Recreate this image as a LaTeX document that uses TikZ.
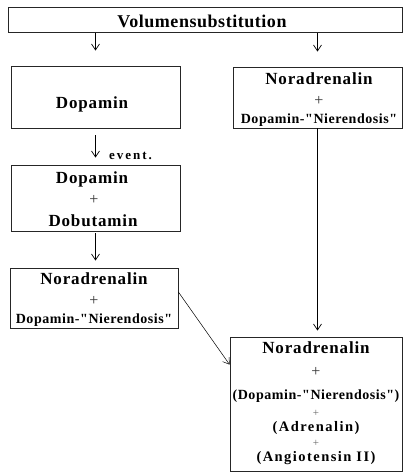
\documentclass[tikz,border=0pt]{standalone}
\usepackage{fontspec}
\setmainfont{Liberation Serif}
\newfontfamily\tpf[LetterSpace=3]{Liberation Serif}
\newfontfamily\hdf[LetterSpace=5]{Liberation Serif}
\newfontfamily\sbf[LetterSpace=4]{Liberation Serif}
\newfontfamily\wsf[LetterSpace=10]{Liberation Serif}
\newfontfamily\evf[LetterSpace=15]{Liberation Serif}
\usetikzlibrary{arrows.meta,calc}
\begin{document}
\begin{tikzpicture}[x=1pt,y=-1pt,
  box/.style={draw=black!85,line width=0.8pt,inner sep=0pt},
  tp/.style={anchor=base,inner sep=0pt,font=\tpf\bfseries\fontsize{18}{20}\selectfont},
  hd/.style={anchor=base,inner sep=0pt,font=\hdf\bfseries\fontsize{17}{20}\selectfont},
  sb/.style={anchor=base,inner sep=0pt,font=\sbf\bfseries\fontsize{14}{16}\selectfont},
  ws/.style={anchor=base,inner sep=0pt,font=\wsf\bfseries\fontsize{14.5}{17}\selectfont},
  ev/.style={anchor=base west,inner sep=0pt,font=\evf\bfseries\fontsize{13}{15}\selectfont},
  pl/.style={inner sep=0pt,text=black!80,font=\fontsize{16}{17}\selectfont},
  ps/.style={inner sep=0pt,text=black!60,font=\fontsize{11}{12}\selectfont},
  arr/.style={-{Straight Barb[length=6pt,width=8pt]},line width=0.7pt}]
\useasboundingbox (0,0) rectangle (404,472);
% boxes
\node[box,minimum width=394pt,minimum height=25pt] (top) at (205,19.5) {};
\node[box,minimum width=169pt,minimum height=62pt] (dop) at (95.5,97) {};
\node[box,minimum width=169pt,minimum height=66pt] (dd) at (95.5,198) {};
\node[box,minimum width=168pt,minimum height=60pt] (nl) at (94,298) {};
\node[box,minimum width=169pt,minimum height=61pt] (nr) at (317.5,97.5) {};
\node[box,minimum width=172pt,minimum height=134pt] (fin) at (316,404) {};
% texts
\node[tp] (t0) at (202,27) {Volumensubstitution};
\node[hd] (t1) at (92,108) {Dopamin};
\node[hd] (t2) at (92,183) {Dopamin};
\node[pl] (t3) at (94,200) {+};
\node[hd] (t4) at (93,226) {Dobutamin};
\node[hd] (t5) at (94,284) {Noradrenalin};
\node[pl] (t6) at (94,300.5) {+};
\node[sb] (t7) at (94,323) {Dopamin-"Nierendosis"};
\node[hd] (t8) at (319,84) {Noradrenalin};
\node[pl] (t9) at (319,100.5) {+};
\node[sb] (t10) at (319,123) {Dopamin-"Nierendosis"};
\node[hd] (t11) at (316,353) {Noradrenalin};
\node[pl] (t12) at (316,372) {+};
\node[sb] (t13) at (316,399) {(Dopamin-"Nierendosis")};
\node[ps] (t14) at (316,413) {+};
\node[ws] (t15) at (316,431) {(Adrenalin)};
\node[ps] (t16) at (316,443.5) {+};
\node[ws] (t17) at (316,461) {(Angiotensin II)};
\node[ev] (ev) at (109,159) {event.};
% connectors
\draw[arr,shorten <=1pt,shorten >=15pt] (top.south -| dop.north) -- (dop.north);
\draw[arr,shorten <=1pt,shorten >=15pt] (top.south -| nr.north) -- (nr.north);
\draw[arr,shorten <=7pt,shorten >=7pt] (dop.south) -- (dd.north);
\draw[arr,shorten <=2pt,shorten >=7pt] (dd.south) -- (dd.south |- nl.north);
\draw[arr,shorten >=6pt] (nr.south) -- (nr.south |- fin.north);
\draw[arr,line width=0.5pt] ($(nl.east)+(0,-6)$) -- ($(fin.north west)+(0,28)$);
\end{tikzpicture}
\end{document}
